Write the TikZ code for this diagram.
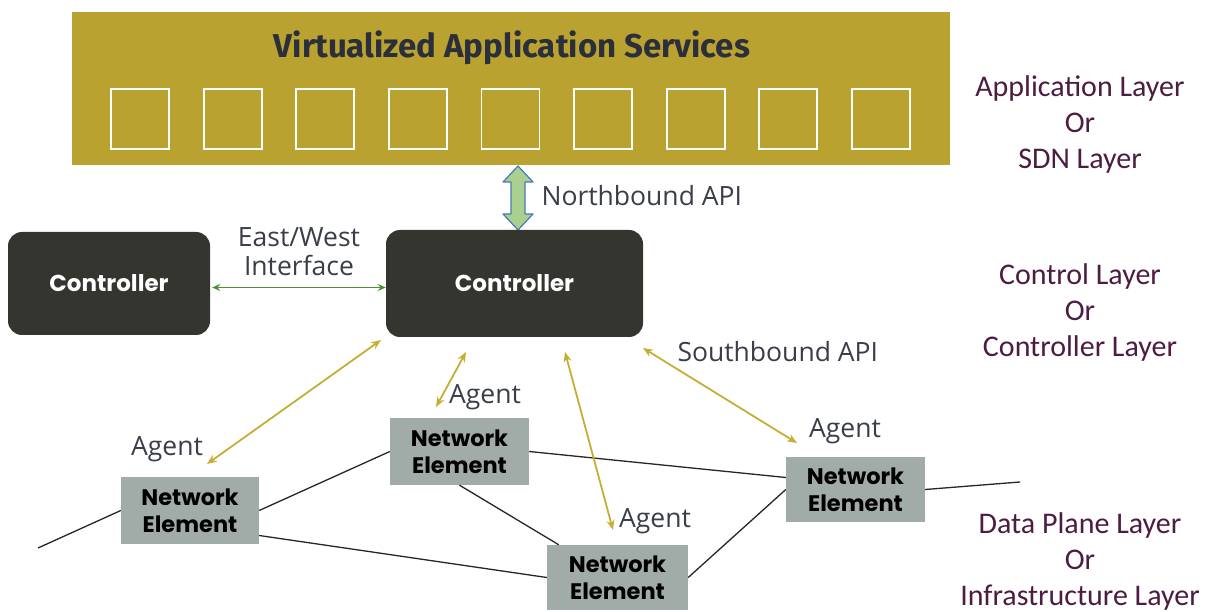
\documentclass[tikz,border=0pt]{standalone}
\usepackage{fontspec}
\setmainfont{Open Sans}
\newfontfamily\layerfont{Carlito}
\newfontfamily\boxfont{Poppins}
\newfontfamily\titlefont{Fira Sans}
\usetikzlibrary{arrows.meta}

\definecolor{appgold}{RGB}{185,162,48}
\definecolor{ctrldark}{RGB}{53,53,48}
\definecolor{negray}{RGB}{161,171,167}
\definecolor{sbgold}{RGB}{198,174,53}
\definecolor{ewgreen}{RGB}{79,143,53}
\definecolor{nbfill}{RGB}{169,208,142}
\definecolor{nbdraw}{RGB}{74,120,192}
\definecolor{txtgray}{RGB}{58,62,72}
\definecolor{layerpurple}{RGB}{77,28,66}
\definecolor{titleblue}{RGB}{43,47,60}

\tikzset{
  ctrl/.style={fill=ctrldark, rounded corners=14pt, text=white,
    font=\boxfont\bfseries\fontsize{23}{26}\selectfont},
  netel/.style={fill=negray, align=center, inner sep=0pt,
    font=\boxfont\bfseries\fontsize{22.5}{27}\selectfont},
  svc/.style={draw=white, line width=1.8pt, minimum width=58pt, minimum height=60pt, inner sep=0pt},
  txt/.style={text=txtgray, font=\fontsize{26.5}{29}\selectfont, align=center},
  layertxt/.style={text=layerpurple, align=center, font=\layerfont\fontsize{30}{36}\selectfont},
  sbarrow/.style={draw=sbgold, line width=1.8pt, {Stealth[length=10pt,width=8pt]}-{Stealth[length=10pt,width=8pt]}},
  wire/.style={draw=black!85, line width=1.3pt},
}

\begin{document}
\begin{tikzpicture}[x=1pt, y=-1pt]

\useasboundingbox (0,0) rectangle (1208,612);

\def\ysvc{119}; % service boxes
\def\dxsvc{92.6};

% application layer
\node[fill=appgold, minimum width=878pt, minimum height=153pt, inner sep=0pt] (apps) at (511,88.5) {};
\node[text=titleblue, font=\titlefont\bfseries\fontsize{33}{36}\selectfont] (title) at (512,48) {Virtualized Application Services};
\foreach \i in {0,...,8}
  \node[svc] (svc\i) at (140 + \i*\dxsvc, \ysvc) {};

% northbound arrow
\filldraw[fill=nbfill, draw=nbdraw, line width=1.2pt, line join=round]
  (518,166) -- (533,182) -- (525,182) -- (525,214) -- (533,214) -- (518,230)
  -- (503,214) -- (511,214) -- (511,182) -- (503,182) -- cycle;
\node[txt, anchor=west] (nb) at (538,196) {Northbound API};

% controllers
\node[ctrl, minimum width=257pt, minimum height=107pt] (ctrlr) at (514.5,283.5) {Controller};
\node[ctrl, minimum width=202pt, minimum height=103pt] (ctrll) at (109,283.5) {Controller};
\draw[ewgreen, line width=1.5pt, {Stealth[length=8pt,width=7pt]}-{Stealth[length=8pt,width=7pt]}]
  ([xshift=2pt,yshift=-4pt]ctrll.east) -- ([yshift=-4pt]ctrlr.west);
\node[txt] (ew) at (299,252) {East/West\\Interface};

% network elements
\node[netel, minimum width=138pt, minimum height=67pt] (ne1) at (190,510.5) {Network\\Element};
\node[netel, minimum width=139pt, minimum height=67pt] (ne2) at (459.5,451.5) {Network\\Element};
\node[netel, minimum width=141pt, minimum height=65pt] (ne3) at (617.5,577.5) {Network\\Element};
\node[netel, minimum width=139pt, minimum height=65pt] (ne4) at (855.5,489.5) {Network\\Element};

\coordinate (wl) at (38,548);
\coordinate (wr) at (1020,482);
\draw[wire] (wl) -- (ne1.west);
\draw[wire] (ne1.east) -- (ne2.west);
\draw[wire] ([yshift=-25pt]ne1.east) -- (ne3.west);
\draw[wire] (ne2.south) -- ([xshift=12pt]ne3.north west);
\draw[wire] (ne2.east) -- ([yshift=12pt]ne4.west);
\draw[wire] (ne3.east) -- (ne4.west);
\draw[wire] (ne4.east) -- (wr);

% southbound arrows
\coordinate (s1a) at (381,340);
\coordinate (s1b) at (207,464);
\coordinate (s2a) at (466,352);
\coordinate (s2b) at (436,407);
\coordinate (s3a) at (565,352);
\coordinate (s3b) at (613,530);
\coordinate (s4a) at (643,348);
\coordinate (s4b) at (797,443);
\draw[sbarrow] (s1a) -- (s1b);
\draw[sbarrow] (s2a) -- (s2b);
\draw[sbarrow] (s3a) -- (s3b);
\draw[sbarrow] (s4a) -- (s4b);
\node[txt, anchor=west] (sb) at (674,352) {Southbound API};

\node[txt] (ag1) at (167,449) {Agent};
\node[txt] (ag2) at (485,397) {Agent};
\node[txt] (ag3) at (655,521) {Agent};
\node[txt] (ag4) at (845,431) {Agent};

% layer names
\node[layertxt] (lapp) at (1080,125) {Application Layer\\Or\\SDN Layer};
\node[layertxt] (lctl) at (1080,313) {Control Layer\\Or\\Controller Layer};
\node[layertxt] (ldat) at (1080,561) {Data Plane Layer\\Or\\Infrastructure Layer};

\end{tikzpicture}
\end{document}
